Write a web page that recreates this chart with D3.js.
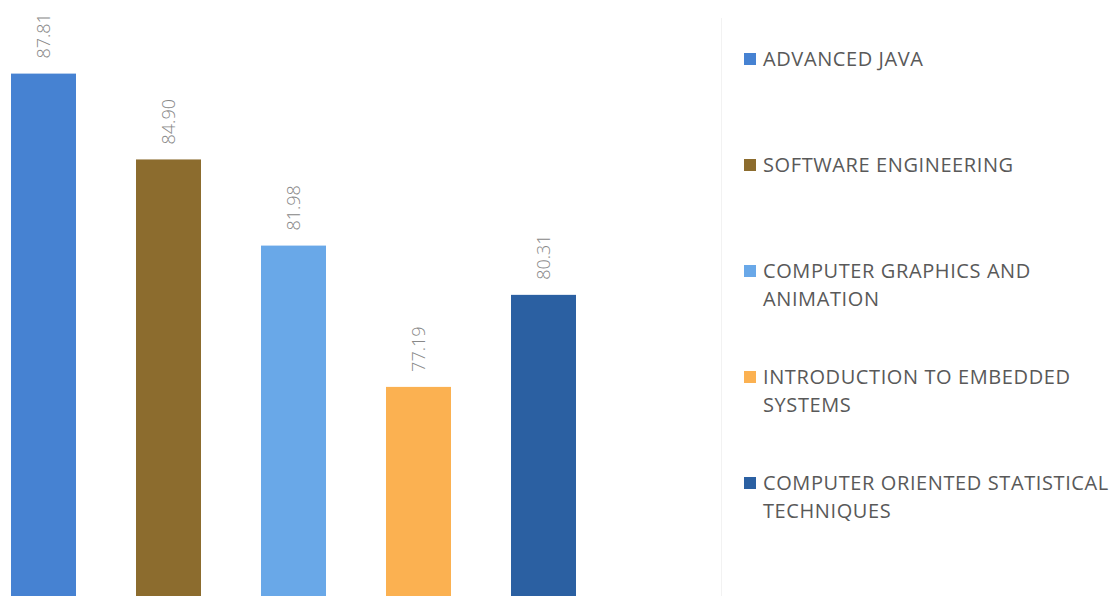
<!DOCTYPE html>
<html>
<head>
<meta charset="utf-8">
<script src="https://cdn.jsdelivr.net/npm/d3@7"></script>
<style>
  html, body { margin: 0; padding: 0; background: #fff; }
  svg { display: block; }
</style>
</head>
<body>
<div id="chart"></div>
<script>
// subject averages, one bar per subject
var subjects = ["ADVANCED JAVA", "SOFTWARE ENGINEERING", "COMPUTER GRAPHICS AND ANIMATION",
  "INTRODUCTION TO EMBEDDED SYSTEMS", "COMPUTER ORIENTED STATISTICAL TECHNIQUES"];
var scores = [87.81, 84.90, 81.98, 77.19, 80.31];
var legendLines = [["ADVANCED JAVA"], ["SOFTWARE ENGINEERING"], ["COMPUTER GRAPHICS AND", "ANIMATION"],
  ["INTRODUCTION TO EMBEDDED", "SYSTEMS"], ["COMPUTER ORIENTED STATISTICAL", "TECHNIQUES"]];
var colours = ["#4682d2", "#8c6c2e", "#69a8e8", "#fbb151", "#2b60a2"];

var W = 1115, H = 596;
var svg = d3.select("#chart").append("svg").attr("width", W).attr("height", H);

var x = d3.scaleBand().domain(subjects).range([-19, 606]).paddingInner(0.48).paddingOuter(0.24);
var y = d3.scaleLinear().domain([70, 88]).range([599, 68]);

// faint plot area edge
svg.append("line")
  .attr("x1", 721.5).attr("x2", 721.5).attr("y1", 18).attr("y2", H)
  .attr("stroke", "#f2f2f2").attr("stroke-width", 1);

var bars = svg.append("g");
bars.selectAll("rect").data(subjects).enter().append("rect")
  .attr("x", function(d) { return x(d); })
  .attr("y", function(d, i) { return y(scores[i]); })
  .attr("width", x.bandwidth())
  .attr("height", function(d, i) { return y.range()[0] - y(scores[i]) + 10; })
  .attr("fill", function(d, i) { return colours[i]; });

bars.selectAll("text").data(subjects).enter().append("text")
  .attr("transform", function(d, i) {
    return "translate(" + (x(d) + x.bandwidth() / 2) + "," + (y(scores[i]) - 15) + ") rotate(-90)";
  })
  .attr("dy", "0.35em")
  .attr("text-anchor", "start")
  .style("font-family", "'Open Sans', sans-serif")
  .style("font-weight", 300)
  .style("font-size", "18px")
  .attr("fill", "#888")
  .text(function(d, i) { return scores[i].toFixed(2); });

// legend
var legend = svg.append("g").selectAll("g").data(subjects).enter().append("g")
  .attr("transform", function(d, i) { return "translate(744," + (66 + i * 106) + ")"; });
legend.append("rect")
  .attr("x", 0).attr("y", -13).attr("width", 12).attr("height", 12)
  .attr("fill", function(d, i) { return colours[i]; });
legend.append("text")
  .attr("x", 19)
  .style("font-family", "'Open Sans', sans-serif")
  .style("font-size", "20px")
  .style("letter-spacing", "0.6px")
  .attr("fill", "#595959")
  .selectAll("tspan").data(function(d, i) { return legendLines[i]; }).enter().append("tspan")
  .attr("x", 19)
  .attr("y", function(d, j) { return j * 28; })
  .text(function(d) { return d; });
</script>
</body>
</html>
